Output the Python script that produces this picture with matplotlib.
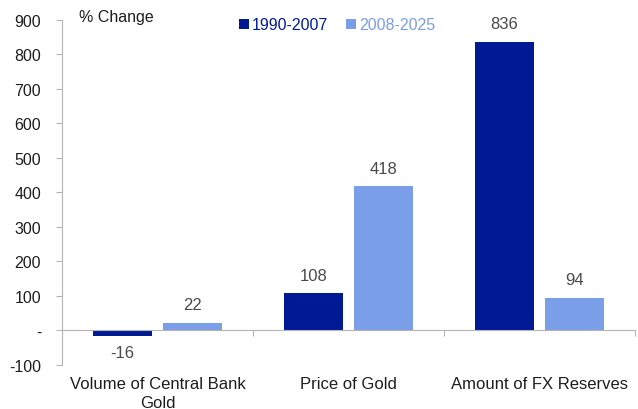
import numpy as np
import matplotlib.pyplot as plt

plt.rcParams['font.family'] = ['Liberation Sans', 'DejaVu Sans']

categories = ['Volume of Central Bank\nGold', 'Price of Gold', 'Amount of FX Reserves']
series_names = ['1990-2007', '2008-2025']
early = [-16, 108, 836]
late = [22, 418, 94]

dark = '#001a96'
light = '#7b9ee8'
grey = '#b4b4b4'
txt = '#4a4a4a'
black = '#1e1e1e'

fig = plt.figure(figsize=(6.38, 4.10), dpi=100)
ax = fig.add_axes([0.0972, 0.1073, 0.898, 0.8422])

x = np.arange(len(categories))
w = 0.31
gap = 0.06
b1 = ax.bar(x - (w + gap) / 2, early, w, color=dark)
b2 = ax.bar(x + (w + gap) / 2, late, w, color=light)

# value labels above (or below, for negatives) each bar
for bars, vals in [(b1, early), (b2, late)]:
    for b, v in zip(bars, vals):
        cx = b.get_x() + b.get_width() / 2
        off = 13 if v >= 0 else -12
        ax.annotate(str(v), (cx, v), xytext=(0, off), textcoords='offset points',
                    ha='center', va='center', fontsize=12, color=txt)

ax.set_xlim(-0.5, 2.5)
ax.set_ylim(-100, 900)
ax.set_yticks(range(-100, 1000, 100))
ax.set_yticklabels(['-100', '-'] + [str(v) for v in range(100, 1000, 100)])

ax.spines['top'].set_visible(False)
ax.spines['right'].set_visible(False)
ax.spines['bottom'].set_position(('data', 0))
ax.spines['bottom'].set_color(grey)
ax.spines['left'].set_color(grey)
ax.tick_params(axis='y', colors=grey, labelcolor=black, labelsize=11.5, length=4, pad=11)

# category separators hang below the zero line
ax.set_xticks([0.5, 1.5, 2.5])
ax.set_xticklabels([])
ax.tick_params(axis='x', colors=grey, length=4, direction='out')
for i, c in enumerate(categories):
    ax.text(i, -132, c, ha='center', va='top', fontsize=12, color=black, linespacing=1.3)

ax.text(0.0297, 1.0107, '% Change', transform=ax.transAxes, ha='left', va='center',
        fontsize=11.5, color=black)

# legend drawn as coloured squares with coloured text
for xs, name, col in [(0.317, series_names[0], dark), (0.504, series_names[1], light)]:
    ax.scatter([xs], [0.9875], s=42, marker='s', color=col, transform=ax.transAxes,
               clip_on=False, linewidths=0)
    ax.text(xs + 0.014, 0.9875, name, transform=ax.transAxes, ha='left', va='center',
            fontsize=11.5, color=col)

fig.savefig('out.png', dpi=100)
